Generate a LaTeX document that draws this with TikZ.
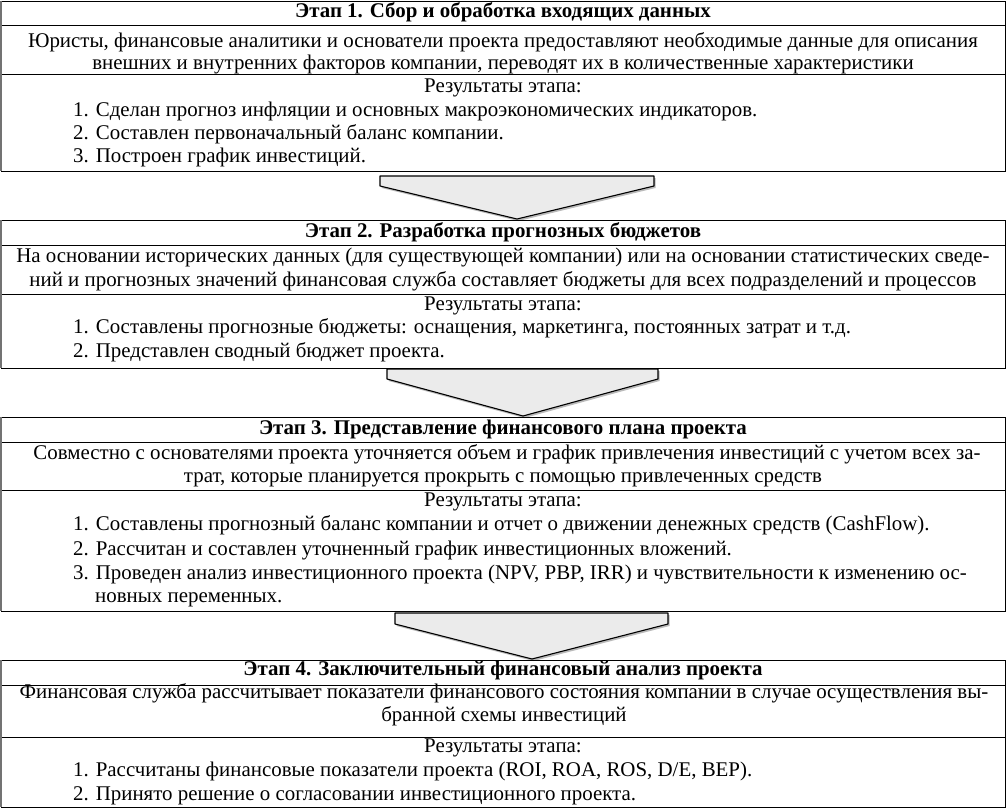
\documentclass[tikz,border=0pt]{standalone}
\usepackage{fontspec}
\setmainfont{Liberation Serif}
\usetikzlibrary{shadows}
\tikzset{
  txt/.style={inner sep=0pt, text height=14pt, text depth=4.5pt, font=\fontsize{20.9}{25}\selectfont},
  hdr/.style={txt, font=\fontsize{20.9}{25}\selectfont\bfseries},
  itm/.style={txt, anchor=west},
  frame/.style={draw=black, line width=0.9pt},
  leftedge/.style={draw=black!55, line width=2pt},
  stagearrow/.style={fill=black!8, draw=black, line width=1.1pt, line join=round,
    drop shadow={shadow xshift=1.5pt, shadow yshift=-2pt, fill=black!45, opacity=0.6}}
}
\begin{document}
\begin{tikzpicture}[x=1pt,y=-1pt]
\useasboundingbox (0,0) rectangle (1006,808);
\fill[white] (0,0) rectangle (1006,808);

% ---------- Stage 1 ----------
\draw[frame] (1,1) rectangle (1005,171);
\draw[frame] (1,25) -- (1005,25);
\draw[frame] (1,74) -- (1005,74);
\draw[leftedge] (1,1) -- (1,171);
\node[hdr] (h1) at (503,13) {Этап 1. Сбор и обработка входящих данных};
\node[txt] (d1a) at (503,43) {Юристы, финансовые аналитики и основатели проекта предоставляют необходимые данные для описания};
\node[txt] (d1b) at (503,65) {внешних и внутренних факторов компании, переводят их в количественные характеристики};
\node[txt] (r1) at (503,88) {Результаты этапа:};
\node[itm] (i11) at (73,112) {1. Сделан прогноз инфляции и основных макроэкономических индикаторов.};
\node[itm] (i12) at (73,135) {2. Составлен первоначальный баланс компании.};
\node[itm] (i13) at (73,158) {3. Построен график инвестиций.};

\path[stagearrow] (380,176) -- (654,176) -- (654,186) -- (517,219) -- (380,186) -- cycle;

% ---------- Stage 2 ----------
\draw[frame] (1,220) rectangle (1005,368);
\draw[frame] (1,245) -- (1005,245);
\draw[frame] (1,294) -- (1005,294);
\draw[leftedge] (1,220) -- (1,368);
\node[hdr] (h2) at (503,233) {Этап 2. Разработка прогнозных бюджетов};
\node[txt] (d2a) at (503,258) {На основании исторических данных (для существующей компании) или на основании статистических сведе-};
\node[txt] (d2b) at (503,282) {ний и прогнозных значений финансовая служба составляет бюджеты для всех подразделений и процессов};
\node[txt] (r2) at (503,306) {Результаты этапа:};
\node[itm] (i21) at (73,329) {1. Составлены прогнозные бюджеты: оснащения, маркетинга, постоянных затрат и т.д.};
\node[itm] (i22) at (73,353) {2. Представлен сводный бюджет проекта.};

\path[stagearrow] (387,369) -- (658,369) -- (658,379) -- (523,416) -- (387,379) -- cycle;

% ---------- Stage 3 ----------
\draw[frame] (1,417) rectangle (1005,611);
\draw[frame] (1,442) -- (1005,442);
\draw[frame] (1,490) -- (1005,490);
\draw[leftedge] (1,417) -- (1,611);
\node[hdr] (h3) at (503,430) {Этап 3. Представление финансового плана проекта};
\node[txt] (d3a) at (507,455) {Совместно с основателями проекта уточняется объем и график привлечения инвестиций с учетом всех за-};
\node[txt] (d3b) at (503,478) {трат, которые планируется прокрыть с помощью привлеченных средств};
\node[txt] (r3) at (503,502) {Результаты этапа:};
\node[itm] (i31) at (73,526) {1. Составлены прогнозный баланс компании и отчет о движении денежных средств (CashFlow).};
\node[itm] (i32) at (73,551) {2. Рассчитан и составлен уточненный график инвестиционных вложений.};
\node[itm] (i33) at (73,575) {3. Проведен анализ инвестиционного проекта (NPV, PBP, IRR) и чувствительности к изменению ос-};
\node[itm] (i34) at (95,598) {новных переменных.};

\path[stagearrow] (395,613) -- (668,613) -- (668,624) -- (532,659) -- (395,624) -- cycle;

% ---------- Stage 4 ----------
\draw[frame] (1,660) rectangle (1005,807);
\draw[frame] (1,685) -- (1005,685);
\draw[frame] (1,737) -- (1005,737);
\draw[leftedge] (1,660) -- (1,807);
\node[hdr] (h4) at (503,671) {Этап 4. Заключительный финансовый анализ проекта};
\node[txt] (d4a) at (504,694) {Финансовая служба рассчитывает показатели финансового состояния компании в случае осуществления вы-};
\node[txt] (d4b) at (504,717) {бранной схемы инвестиций};
\node[txt] (r4) at (503,748) {Результаты этапа:};
\node[itm] (i41) at (73,772) {1. Рассчитаны финансовые показатели проекта (ROI, ROA, ROS, D/E, BEP).};
\node[itm] (i42) at (73,796) {2. Принято решение о согласовании инвестиционного проекта.};
\end{tikzpicture}
\end{document}
